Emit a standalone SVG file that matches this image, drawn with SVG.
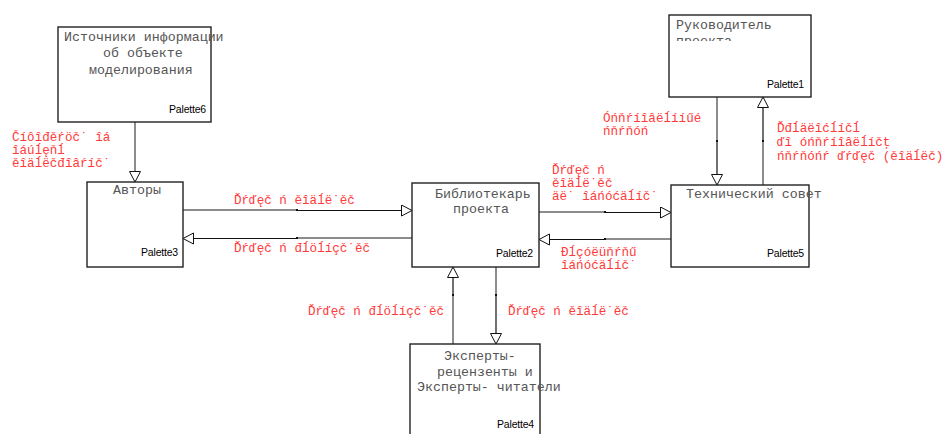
<svg xmlns="http://www.w3.org/2000/svg" width="950" height="434" viewBox="0 0 950 434">
<defs>
<style>
.box{fill:#fff;stroke:#222;stroke-width:1.4}
.nt{font-family:"Liberation Mono","Courier New",monospace;font-size:13.3px;fill:#555}
.pal{font-family:"Liberation Sans",Arial,sans-serif;font-size:10.5px;fill:#000;text-anchor:end;letter-spacing:-0.2px}
.lbl{font-family:"Liberation Mono","Courier New",monospace;font-size:12.6px;fill:#ff3a3a}
.g{fill:none;stroke:#666;stroke-width:1.5}
.k{fill:none;stroke:#111;stroke-width:1.2}
.dot{fill:#111}
</style>
<marker id="ah" markerUnits="userSpaceOnUse" markerWidth="14" markerHeight="14" refX="11" refY="6" orient="auto">
<path d="M0.5,0.5 L11,6 L0.5,11.5 Z" fill="#fff" stroke="#111" stroke-width="1"/>
</marker>
<clipPath id="clipRuk"><rect x="670" y="16" width="140" height="25"/></clipPath>
</defs>
<rect width="950" height="434" fill="#fff"/>

<g id="connectors">
<path class="g" d="M135,122 V182" marker-end="url(#ah)"/>
<path class="g" d="M183,210 H297"/>
<path class="k" d="M297,210.5 H412" marker-end="url(#ah)"/>
<path class="g" d="M412,238 H297"/>
<path class="k" d="M297,238.5 H183" marker-end="url(#ah)"/>
<path class="g" d="M539,212 H605"/>
<path class="k" d="M605,212.5 H671" marker-end="url(#ah)"/>
<path class="g" d="M671,239 H605"/>
<path class="k" d="M605,239.5 H539" marker-end="url(#ah)"/>
<path class="g" d="M717,97 V141"/>
<path class="k" d="M717,141 V185" marker-end="url(#ah)"/>
<path class="g" d="M763,185 V141"/>
<path class="k" d="M763,141 V97" marker-end="url(#ah)"/>
<path class="g" d="M453,344 V295"/>
<path class="k" d="M453,295 V267" marker-end="url(#ah)"/>
<path class="g" d="M496,267 V295"/>
<path class="k" d="M496,295 V344" marker-end="url(#ah)"/>
<rect class="dot" x="296" y="209" width="2" height="2"/>
<rect class="dot" x="296" y="237" width="2" height="2"/>
<rect class="dot" x="604" y="211" width="2" height="2"/>
<rect class="dot" x="604" y="238" width="2" height="2"/>
<rect class="dot" x="716" y="140" width="2" height="2"/>
<rect class="dot" x="762" y="140" width="2" height="2"/>
<rect class="dot" x="452" y="294" width="2" height="2"/>
<rect class="dot" x="495" y="294" width="2" height="2"/>
</g>

<g id="labels">
<text class="lbl"><tspan x="12" y="141">Číôîđěŕöč˙ îá</tspan><tspan x="12" y="154">îáúĺęňĺ</tspan><tspan x="12" y="167">ěîäĺëčđîâŕíč˙</tspan></text>
<text class="lbl" x="234" y="204">Ďŕďęč ń ěîäĺë˙ěč</text>
<text class="lbl" x="234" y="252">Ďŕďęč ń đĺöĺíçč˙ěč</text>
<text class="lbl"><tspan x="552" y="174">Ďŕďęč ń</tspan><tspan x="552" y="187">ěîäĺë˙ěč</tspan><tspan x="552" y="200">äë˙ îáńóćäĺíč˙</tspan></text>
<text class="lbl"><tspan x="561" y="256">Đĺçóëüňŕňű</tspan><tspan x="561" y="269">îáńóćäĺíč˙</tspan></text>
<text class="lbl"><tspan x="603" y="122">Óńňŕíîâëĺííűé</tspan><tspan x="603" y="135">ńňŕňóń</tspan></text>
<text class="lbl"><tspan x="777" y="132">Ďđĺäëîćĺíčĺ</tspan><tspan x="777" y="146">ďî óńňŕíîâëĺíčţ</tspan><tspan x="777" y="160">ńňŕňóńŕ ďŕďęč (ěîäĺëč)</tspan></text>
<text class="lbl" x="308" y="315">Ďŕďęč ń đĺöĺíçč˙ěč</text>
<text class="lbl" x="508" y="315">Ďŕďęč ń ěîäĺë˙ěč</text>
</g>

<g id="node-sources">
<rect class="box" x="58" y="27" width="153" height="95"/>
<text class="nt"><tspan x="64" y="41">Источники информации</tspan><tspan x="103" y="57">об объекте</tspan><tspan x="89" y="74">моделирования</tspan></text>
<text class="pal" x="206" y="113">Palette6</text>
</g>

<g id="node-authors">
<rect class="box" x="87" y="182" width="96" height="85"/>
<text class="nt" x="113" y="194">Авторы</text>
<text class="pal" x="178" y="256">Palette3</text>
</g>

<g id="node-librarian">
<rect class="box" x="412" y="183" width="127" height="84"/>
<text class="nt"><tspan x="435" y="198">Библиотекарь</tspan><tspan x="453" y="213">проекта</tspan></text>
<text class="pal" x="533" y="257">Palette2</text>
</g>

<g id="node-council">
<rect class="box" x="671" y="185" width="138" height="82"/>
<text class="nt" x="686" y="198">Технический совет</text>
<text class="pal" x="804" y="257">Palette5</text>
</g>

<g id="node-manager">
<rect class="box" x="669" y="15" width="142" height="82"/>
<text class="nt"><tspan x="676" y="29">Руководитель</tspan></text>
<text class="nt" x="676" y="45" clip-path="url(#clipRuk)">проекта</text>
<text class="pal" x="804" y="88">Palette1</text>
</g>

<g id="node-experts">
<rect class="box" x="410" y="344" width="130" height="100"/>
<text class="nt"><tspan x="444" y="360">Эксперты-</tspan><tspan x="437" y="376">рецензенты и</tspan><tspan x="417" y="391">Эксперты- читатели</tspan></text>
<text class="pal" x="534" y="428">Palette4</text>
</g>
</svg>
